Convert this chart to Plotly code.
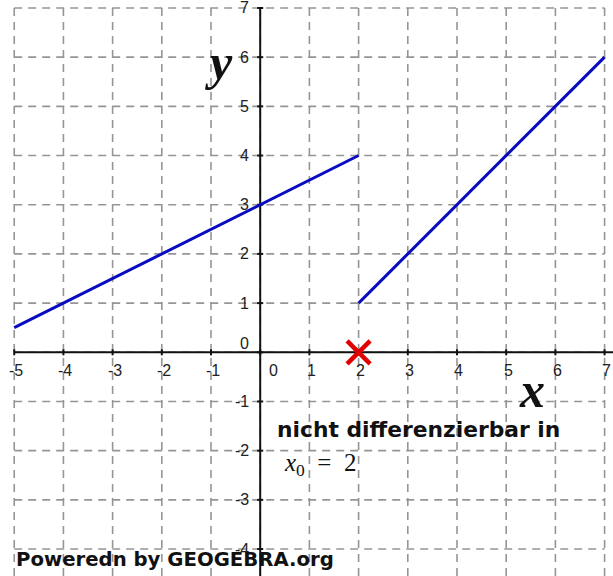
import plotly.graph_objects as go

# ---- data ----
seg1_x = [-5, 2]
seg1_y = [0.5, 4]
seg2_x = [2, 7]
seg2_y = [1, 6]
mark_x = [2]
mark_y = [0]
x_ticks = [-5, -4, -3, -2, -1, 0, 1, 2, 3, 4, 5, 6, 7]
y_ticks = [-4, -3, -2, -1, 0, 1, 2, 3, 4, 5, 6, 7]
x_tick_labels = [str(v) for v in x_ticks]
y_tick_labels = [str(v) for v in y_ticks]

X_RANGE = [-5.289, 7.171]
Y_RANGE = [-4.548, 7.162]

BLUE = "#0a0abf"
GRID = "#959595"

fig = go.Figure()

shapes = []
# dashed grid
for xv in x_ticks:
    shapes.append(dict(type="line", xref="x", yref="y", x0=xv, x1=xv,
                       y0=Y_RANGE[0], y1=max(y_ticks),
                       line=dict(color=GRID, width=1.6, dash="8px,6px"), layer="below"))
for yv in y_ticks:
    shapes.append(dict(type="line", xref="x", yref="y", x0=min(x_ticks), x1=max(x_ticks),
                       y0=yv, y1=yv,
                       line=dict(color=GRID, width=1.6, dash="8px,6px"), layer="below"))
# axes
shapes.append(dict(type="line", xref="x", yref="y", x0=min(x_ticks), x1=X_RANGE[1], y0=0, y1=0,
                   line=dict(color="#111", width=2), layer="below"))
shapes.append(dict(type="line", xref="x", yref="y", x0=0, x1=0, y0=Y_RANGE[0], y1=max(y_ticks),
                   line=dict(color="#111", width=2), layer="below"))
# tick marks
for xv in x_ticks:
    shapes.append(dict(type="line", xref="x", yref="y", xsizemode="scaled",
                       ysizemode="pixel", yanchor=0, x0=xv, x1=xv, y0=-3, y1=3,
                       line=dict(color="#111", width=2), layer="below"))
for yv in y_ticks:
    shapes.append(dict(type="line", xref="x", yref="y", ysizemode="scaled",
                       xsizemode="pixel", xanchor=0, y0=yv, y1=yv, x0=-3, x1=3,
                       line=dict(color="#111", width=2), layer="below"))

fig.add_trace(go.Scatter(x=seg1_x, y=seg1_y, mode="lines",
                         line=dict(color=BLUE, width=3), hoverinfo="skip"))
fig.add_trace(go.Scatter(x=seg2_x, y=seg2_y, mode="lines",
                         line=dict(color=BLUE, width=3), hoverinfo="skip"))
fig.add_trace(go.Scatter(x=mark_x, y=mark_y, mode="markers",
                         marker=dict(symbol="x-thin", size=23, color="#e00000",
                                     line=dict(color="#e00000", width=4.5)),
                         hoverinfo="skip"))

annotations = []
tick_font = dict(family="Liberation Sans, Arial, sans-serif", size=16, color="#222")
for xv, lab in zip(x_ticks, x_tick_labels):
    annotations.append(dict(x=xv, y=0, xref="x", yref="y", text=lab, showarrow=False,
                            xanchor="center", yanchor="middle",
                            xshift=13 if xv == 0 else 2, yshift=-18, font=tick_font))
for yv, lab in zip(y_ticks, y_tick_labels):
    annotations.append(dict(x=0, y=yv, xref="x", yref="y", text=lab, showarrow=False,
                            xanchor="right", yanchor="middle",
                            xshift=-9, yshift=9 if yv == 0 else 0, font=tick_font))

annotations += [
    dict(x=-0.84, y=5.9, xref="x", yref="y", text="<b><i>y</i></b>", showarrow=False,
         xanchor="center", yanchor="middle",
         font=dict(family="Liberation Serif, Times New Roman, serif", size=50, color="#111")),
    dict(x=5.53, y=-0.77, xref="x", yref="y", text="<b><i>x</i></b>", showarrow=False,
         xanchor="center", yanchor="middle",
         font=dict(family="Liberation Serif, Times New Roman, serif", size=50, color="#111")),
    dict(x=0.31, y=-1.56, xref="x", yref="y", text="<b>nicht differenzierbar in</b>",
         showarrow=False, xanchor="left", yanchor="middle",
         font=dict(family="DejaVu Sans, sans-serif", size=21.8, color="#111")),
    dict(x=0.45, y=-2.29, xref="x", yref="y",
         text="<i>x</i><sub>0</sub> &nbsp;= &nbsp;2", showarrow=False,
         xanchor="left", yanchor="middle",
         font=dict(family="Liberation Serif, Times New Roman, serif", size=25, color="#111")),
    dict(x=-5.0, y=-4.22, xref="x", yref="y", text="<b>Poweredn by GEOGEBRA.org</b>",
         showarrow=False, xanchor="left", yanchor="middle",
         font=dict(family="DejaVu Sans, sans-serif", size=19.7, color="#111")),
]

fig.update_layout(
    width=613, height=576,
    margin=dict(l=0, r=0, t=0, b=0),
    paper_bgcolor="white", plot_bgcolor="white",
    showlegend=False,
    shapes=shapes,
    annotations=annotations,
    xaxis=dict(range=X_RANGE, visible=False, fixedrange=True),
    yaxis=dict(range=Y_RANGE, visible=False, fixedrange=True),
)

fig.write_html("out.html", config={"displayModeBar": False},
               post_script="document.body.style.margin='0';document.body.style.overflow='hidden';")
